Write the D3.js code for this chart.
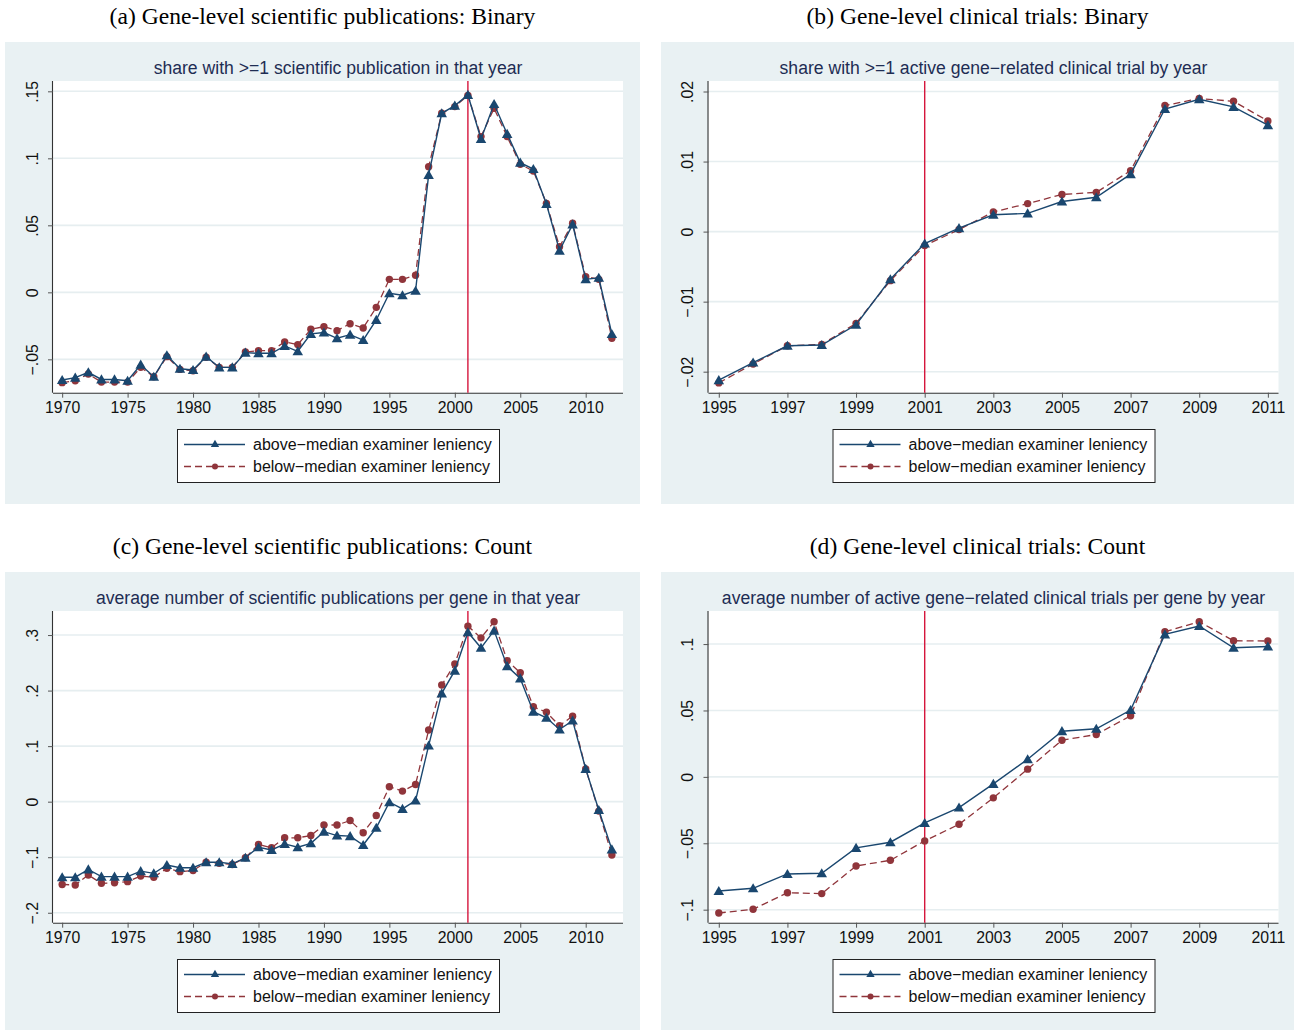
<!DOCTYPE html>
<html>
<head>
<meta charset="utf-8">
<script src="https://cdn.jsdelivr.net/npm/d3@7/dist/d3.min.js"></script>
<style>
  html, body { margin: 0; padding: 0; background: #ffffff; }
  svg { display: block; }
</style>
</head>
<body>
<svg id="chart" width="1294" height="1030"></svg>
<script>
// Years for each panel
const yearsPub = d3.range(1970, 2013);
const yearsTrial = d3.range(1995, 2012);

// (a) share with >=1 scientific publication
const pubBinaryAbove = [-0.0654, -0.0637, -0.0597, -0.065, -0.065, -0.066, -0.054, -0.063, -0.047, -0.057, -0.058,
  -0.048, -0.056, -0.056, -0.045, -0.0455, -0.0455, -0.040, -0.044, -0.031, -0.030,
  -0.0343, -0.0316, -0.0356, -0.0206, -0.0007, -0.0022, 0.0012, 0.0876, 0.1336, 0.1393,
  0.1473, 0.1144, 0.1405, 0.1182, 0.0968, 0.092, 0.0659, 0.0311, 0.0507, 0.0097, 0.0109, -0.0311];
const pubBinaryBelow = [-0.0674, -0.066, -0.061, -0.067, -0.067, -0.067, -0.056, -0.063, -0.048, -0.0575, -0.0585,
  -0.0485, -0.056, -0.056, -0.0445, -0.0435, -0.0435, -0.037, -0.039, -0.0276, -0.0256,
  -0.0286, -0.0234, -0.0266, -0.0112, 0.0097, 0.0097, 0.0127, 0.0938, 0.1336, 0.1386,
  0.147, 0.1162, 0.1373, 0.1162, 0.0955, 0.0905, 0.0664, 0.0341, 0.0515, 0.0117, 0.0097, -0.0343];

// (b) share with >=1 active gene-related clinical trial
const trialBinaryAbove = [-0.0212, -0.0187, -0.0163, -0.0162, -0.0133, -0.0068, -0.0017, 0.0005,
  0.0024, 0.0026, 0.0043, 0.0049, 0.0082, 0.0175, 0.0189, 0.0178, 0.0152];
const trialBinaryBelow = [-0.0216, -0.0189, -0.0163, -0.0161, -0.0131, -0.007, -0.002, 0.0003,
  0.0028, 0.004, 0.0053, 0.0056, 0.0087, 0.018, 0.019, 0.0186, 0.0158];

// (c) average number of scientific publications per gene
const pubCountAbove = [-0.136, -0.136, -0.122, -0.135, -0.135, -0.135, -0.125, -0.129, -0.114, -0.119, -0.119,
  -0.109, -0.109, -0.112, -0.101, -0.082, -0.087, -0.076, -0.082, -0.075, -0.054,
  -0.061, -0.062, -0.078, -0.047, -0.001, -0.013, 0.002, 0.101, 0.195, 0.236,
  0.305, 0.277, 0.308, 0.244, 0.222, 0.162, 0.151, 0.130, 0.146, 0.059, -0.015, -0.086];
const pubCountBelow = [-0.149, -0.150, -0.132, -0.147, -0.146, -0.144, -0.134, -0.136, -0.120, -0.126, -0.124,
  -0.109, -0.111, -0.113, -0.101, -0.077, -0.083, -0.065, -0.065, -0.061, -0.042,
  -0.042, -0.034, -0.056, -0.025, 0.027, 0.019, 0.031, 0.129, 0.210, 0.248,
  0.316, 0.295, 0.324, 0.254, 0.232, 0.171, 0.161, 0.137, 0.154, 0.059, -0.017, -0.096];

// (d) average number of active gene-related clinical trials per gene
const trialCountAbove = [-0.0859, -0.0839, -0.0731, -0.0726, -0.0535, -0.0492, -0.0347, -0.0231,
  -0.0053, 0.0133, 0.0344, 0.0362, 0.0503, 0.1073, 0.1136, 0.0972, 0.0982];
const trialCountBelow = [-0.1025, -0.0997, -0.0872, -0.0879, -0.0671, -0.0628, -0.0482, -0.0357,
  -0.0158, 0.0058, 0.0276, 0.0319, 0.046, 0.1093, 0.1168, 0.1025, 0.1023];

// Axis ticks and their labels
const pubXTicks = [1970, 1975, 1980, 1985, 1990, 1995, 2000, 2005, 2010];
const trialXTicks = [1995, 1997, 1999, 2001, 2003, 2005, 2007, 2009, 2011];
const yTicksA = [-0.05, 0, 0.05, 0.1, 0.15];
const yLabelsA = ["\u2212.05", "0", ".05", ".1", ".15"];
const yTicksB = [-0.02, -0.01, 0, 0.01, 0.02];
const yLabelsB = ["\u2212.02", "\u2212.01", "0", ".01", ".02"];
const yTicksC = [-0.2, -0.1, 0, 0.1, 0.2, 0.3];
const yLabelsC = ["\u2212.2", "\u2212.1", "0", ".1", ".2", ".3"];
const yTicksD = [-0.1, -0.05, 0, 0.05, 0.1];
const yLabelsD = ["\u2212.1", "\u2212.05", "0", ".05", ".1"];

const cutoffYear = 2001;
const seriesNames = ["above\u2212median examiner leniency", "below\u2212median examiner leniency"];

const panelTitles = [
  "(a) Gene-level scientific publications: Binary",
  "(b) Gene-level clinical trials: Binary",
  "(c) Gene-level scientific publications: Count",
  "(d) Gene-level clinical trials: Count"
];
const panelSubtitles = [
  "share with >=1 scientific publication in that year",
  "share with >=1 active gene\u2212related clinical trial by year",
  "average number of scientific publications per gene in that year",
  "average number of active gene\u2212related clinical trials per gene by year"
];

// Styling
const BG = "#e9f1f3";
const GRID = "#e6eef0";
const BLUE = "#1a476f";
const RED = "#90353b";
const CUT = "#d5163c";
const SUB = "#1e2d53";
const SANS = "'Liberation Sans', Arial, Helvetica, sans-serif";
const SERIF = "'Liberation Serif', 'Times New Roman', serif";

const svg = d3.select("#chart");

const panels = [
  { col: 0, row: 0, years: yearsPub, xTicks: pubXTicks, xDomain: [1969.3, 2012.85], yDomain: [-0.0749, 0.1577],
    yTicks: yTicksA, yLabels: yLabelsA, above: pubBinaryAbove, below: pubBinaryBelow },
  { col: 1, row: 0, years: yearsTrial, xTicks: trialXTicks, xDomain: [1994.7, 2011.31], yDomain: [-0.0230, 0.0215],
    yTicks: yTicksB, yLabels: yLabelsB, above: trialBinaryAbove, below: trialBinaryBelow },
  { col: 0, row: 1, years: yearsPub, xTicks: pubXTicks, xDomain: [1969.3, 2012.85], yDomain: [-0.2179, 0.3433],
    yTicks: yTicksC, yLabels: yLabelsC, above: pubCountAbove, below: pubCountBelow },
  { col: 1, row: 1, years: yearsTrial, xTicks: trialXTicks, xDomain: [1994.7, 2011.31], yDomain: [-0.1098, 0.1249],
    yTicks: yTicksD, yLabels: yLabelsD, above: trialCountAbove, below: trialCountBelow }
];

const triangle = d3.symbol().type(d3.symbolTriangle).size(48);

panels.forEach((p, i) => {
  const ox = p.col === 0 ? 0 : 655.5;
  const oy = p.row === 0 ? 0 : 530;
  const bgX = p.col === 0 ? 5 : 661;
  const bgW = p.col === 0 ? 635 : 633;
  const bgH = p.row === 0 ? 462 : 458;

  const g = svg.append("g").attr("transform", `translate(0,${oy})`);

  // panel title above the shaded area
  const panelCx = bgX + bgW / 2;
  g.append("text")
    .attr("x", panelCx).attr("y", 23.5)
    .attr("text-anchor", "middle")
    .attr("font-family", SERIF).attr("font-size", 23.6)
    .attr("fill", "#000")
    .text(panelTitles[i]);

  g.append("rect").attr("x", bgX).attr("y", 42).attr("width", bgW).attr("height", bgH).attr("fill", BG);

  const left = 53 + ox, right = 623 + ox, top = 81, bottom = 392.7;
  const x = d3.scaleLinear().domain(p.xDomain).range([left, right]);
  const y = d3.scaleLinear().domain(p.yDomain).range([bottom, top]);

  g.append("rect").attr("x", left).attr("y", top).attr("width", right - left).attr("height", bottom - top)
    .attr("fill", "#ffffff");

  // subtitle
  g.append("text")
    .attr("x", (left + right) / 2).attr("y", 74)
    .attr("text-anchor", "middle")
    .attr("font-family", SANS).attr("font-size", 17.6)
    .attr("fill", SUB)
    .text(panelSubtitles[i]);

  // horizontal gridlines
  g.append("g").selectAll("line").data(p.yTicks).join("line")
    .attr("x1", left).attr("x2", right)
    .attr("y1", d => y(d)).attr("y2", d => y(d))
    .attr("stroke", GRID).attr("stroke-width", 1.6);

  // y axis
  const yAxis = d3.axisLeft(y).tickValues(p.yTicks).tickSize(5)
    .tickFormat((d, k) => p.yLabels[k]);
  const ya = g.append("g").attr("transform", `translate(${left},0)`).call(yAxis);
  ya.select(".domain").attr("stroke", "#333").attr("stroke-width", 1.1)
    .attr("d", `M-0.5,${top}V${bottom}`);
  ya.selectAll(".tick line").attr("stroke", "#555");
  ya.selectAll(".tick text")
    .attr("font-family", SANS).attr("font-size", 15.8).attr("fill", "#111")
    .attr("x", 0).attr("dy", 0)
    .attr("text-anchor", "middle")
    .attr("transform", "translate(-15.5,0) rotate(-90)");

  // x axis
  const xAxis = d3.axisBottom(x).tickValues(p.xTicks).tickSize(5).tickFormat(d3.format("d"));
  const xa = g.append("g").attr("transform", `translate(0,${bottom})`).call(xAxis);
  xa.select(".domain").attr("stroke", "#333").attr("stroke-width", 1.1)
    .attr("d", `M${left},0.5H${right}`);
  xa.selectAll(".tick line").attr("stroke", "#555");
  xa.selectAll(".tick text")
    .attr("font-family", SANS).attr("font-size", 15.8).attr("fill", "#111")
    .attr("y", 9.5).attr("dy", "0.71em");

  // vertical line at the cutoff year
  g.append("line")
    .attr("x1", x(cutoffYear)).attr("x2", x(cutoffYear))
    .attr("y1", top).attr("y2", bottom)
    .attr("stroke", CUT).attr("stroke-width", 1.4);

  const aboveData = p.years.map((yr, k) => [yr, p.above[k]]);
  const belowData = p.years.map((yr, k) => [yr, p.below[k]]);
  const line = d3.line().x(d => x(d[0])).y(d => y(d[1]));

  // below-median series: dashed with circles
  g.append("path").datum(belowData).attr("d", line)
    .attr("fill", "none").attr("stroke", RED).attr("stroke-width", 1.3)
    .attr("stroke-dasharray", "7,4");
  g.append("g").selectAll("circle").data(belowData).join("circle")
    .attr("cx", d => x(d[0])).attr("cy", d => y(d[1])).attr("r", 3.7)
    .attr("fill", RED);

  // above-median series: solid with triangles
  g.append("path").datum(aboveData).attr("d", line)
    .attr("fill", "none").attr("stroke", BLUE).attr("stroke-width", 1.4);
  g.append("g").selectAll("path.tri").data(aboveData).join("path")
    .attr("class", "tri")
    .attr("d", triangle)
    .attr("transform", d => `translate(${x(d[0])},${y(d[1]) + 1})`)
    .attr("fill", BLUE);

  // legend
  const lgW = 322, lgH = 53;
  const lgX = (left + right) / 2 - lgW / 2, lgY = 429;
  const lg = g.append("g").attr("transform", `translate(${lgX},${lgY})`);
  lg.append("rect").attr("x", 0.5).attr("y", 0.5).attr("width", lgW).attr("height", lgH)
    .attr("fill", "#fff").attr("stroke", "#222").attr("stroke-width", 1);
  const rows = [
    { name: seriesNames[0], color: BLUE, dash: null, mark: "tri", yy: 15.5 },
    { name: seriesNames[1], color: RED, dash: "7,4", mark: "circ", yy: 37.5 }
  ];
  rows.forEach(r => {
    lg.append("line").attr("x1", 7).attr("x2", 68).attr("y1", r.yy).attr("y2", r.yy)
      .attr("stroke", r.color).attr("stroke-width", 1.3)
      .attr("stroke-dasharray", r.dash);
    if (r.mark === "tri") {
      lg.append("path").attr("d", d3.symbol().type(d3.symbolTriangle).size(30))
        .attr("transform", `translate(38,${r.yy})`).attr("fill", r.color);
    } else {
      lg.append("circle").attr("cx", 38).attr("cy", r.yy).attr("r", 3).attr("fill", r.color);
    }
    lg.append("text").attr("x", 76).attr("y", r.yy + 5.5)
      .attr("font-family", SANS).attr("font-size", 16).attr("fill", "#111")
      .text(r.name);
  });
});
</script>
</body>
</html>
